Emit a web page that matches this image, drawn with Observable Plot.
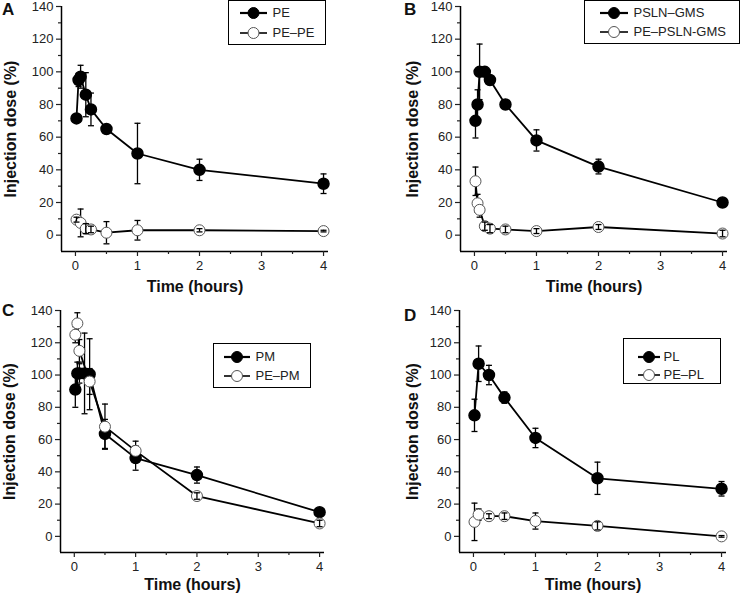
<!DOCTYPE html>
<html><head><meta charset="utf-8">
<script src="https://cdn.jsdelivr.net/npm/d3@7"></script>
<script src="https://cdn.jsdelivr.net/npm/@observablehq/plot@0.6"></script>
<style>
body{margin:0;background:#fff;}
#wrap{position:relative;width:742px;height:593px;font-family:"Liberation Sans",Arial,sans-serif;overflow:hidden;}
.panel{position:absolute;}
.panel svg{overflow:visible;}
[aria-label="y-axis label"] text,[aria-label="x-axis label"] text{font-weight:bold;font-size:16px;fill:#111;}
.letter{position:absolute;font-weight:bold;font-size:17px;line-height:1;color:#111;}
.legend{position:absolute;border:1.5px solid #000;background:#fff;box-sizing:border-box;font-size:13px;color:#222;}
.legend .row{position:absolute;display:flex;align-items:center;height:14px;white-space:nowrap;}
</style></head>
<body><div id="wrap"></div>
<script>
// ---- tick labels and texts ----
const xTicks = [0, 1, 2, 3, 4];
const xMinorTicks = [0.5, 1.5, 2.5, 3.5];
const yTicks = [0, 20, 40, 60, 80, 100, 120, 140];
const yMinorTicks = [10, 30, 50, 70, 90, 110, 130];
const yLabel = "Injection dose (%)";
const xLabel = "Time (hours)";
const panelLetters = ["A", "B", "C", "D"];
const seriesNames = [["PE", "PE–PE"], ["PSLN–GMS", "PE–PSLN-GMS"], ["PM", "PE–PM"], ["PL", "PE–PL"]];

// ---- Panel A ----
const timeA1 = [0.0167, 0.05, 0.083, 0.167, 0.25, 0.5, 1, 2, 4];
const doseA1 = [71.5, 95, 97, 86, 77, 65, 50, 40, 31.5];
const errA1  = [2, 4, 7, 13.5, 10, 1.5, 18.5, 6.5, 6];
const timeA2 = [0.0167, 0.083, 0.167, 0.25, 0.5, 1, 2, 4];
const doseA2 = [9.5, 7.5, 4, 3.5, 1.5, 3, 3, 2.5];
const errA2  = [1.5, 8.5, 3, 2, 6.8, 6, 1, 0.5];
// ---- Panel B ----
const timeB1 = [0.0167, 0.05, 0.083, 0.167, 0.25, 0.5, 1, 2, 4];
const doseB1 = [70, 80, 100, 100, 95, 80, 58, 42, 20];
const errB1  = [10.5, 9, 17, 2, 2, 1.5, 6.5, 4.5, 1.5];
const timeB2 = [0.0167, 0.05, 0.083, 0.167, 0.25, 0.5, 1, 2, 4];
const doseB2 = [33, 19.5, 15.5, 5.5, 4, 3.5, 2.5, 5, 1];
const errB2  = [8.7, 5.5, 4.5, 2.5, 2.5, 2, 1.5, 1.5, 2];
// ---- Panel C ----
const timeC1 = [0.0167, 0.05, 0.083, 0.167, 0.25, 0.5, 1, 2, 4];
const doseC1 = [91, 101, 101, 101, 100.5, 63.5, 48.5, 38, 15];
const errC1  = [11, 7, 6, 25, 22, 9, 7.5, 5, 1.5];
const timeC2 = [0.0167, 0.05, 0.083, 0.25, 0.5, 1, 2, 4];
const doseC2 = [125, 132, 115, 96, 68, 53, 25, 8];
const errC2  = [5, 6.6, 7, 8, 14, 6, 2, 2];
// ---- Panel D ----
const timeD1 = [0.0167, 0.083, 0.25, 0.5, 1, 2, 4];
const doseD1 = [75, 107, 100, 86, 61, 36, 29.5];
const errD1  = [10, 11, 6, 3.5, 6, 10, 4.5];
const timeD2 = [0.0167, 0.083, 0.25, 0.5, 1, 2, 4];
const doseD2 = [9, 13.5, 12.5, 12.5, 9.5, 6.5, 0];
const errD2  = [11.6, 3.5, 1.5, 2, 5, 2.5, 0.5];

const xDomain = [-0.225, 4.08];
const yDomain = [-10, 140];

const toRows = (t, y, e) => t.map((v, i) => ({t: v, y: y[i], e: e[i]}));
const capSymbol = {draw(ctx, size) { const r = Math.sqrt(size / Math.PI); ctx.moveTo(-r, 0); ctx.lineTo(r, 0); }};

const panels = [
  {s1: toRows(timeA1, doseA1, errA1), s2: toRows(timeA2, doseA2, errA2), left: 0, top: 0, height: 296,
   m: {l: 61, r: 43, t: 6, b: 45}, yOff: 57, xOff: 40, letter: {left: 2, top: 1},
   legend: {left: 228, top: 0, w: 98, h: 45, rows: [13, 33], gx: 12, gw: 27, tx: 45}},
  {s1: toRows(timeB1, doseB1, errB1), s2: toRows(timeB2, doseB2, errB2), left: 371, top: 0, height: 296,
   m: {l: 89, r: 15, t: 6, b: 45}, yOff: 54, xOff: 40, letter: {left: 404, top: 1},
   legend: {left: 584, top: 0, w: 156, h: 44, rows: [13, 32], gx: 16, gw: 28, tx: 50}},
  {s1: toRows(timeC1, doseC1, errC1), s2: toRows(timeC2, doseC2, errC2), left: 0, top: 296, height: 297,
   m: {l: 60, r: 47, t: 14, b: 41}, yOff: 57, xOff: 37, letter: {left: 2, top: 302},
   legend: {left: 213, top: 343, w: 98, h: 45, rows: [14, 33], gx: 11, gw: 26, tx: 43}},
  {s1: toRows(timeD1, doseD1, errD1), s2: toRows(timeD2, doseD2, errD2), left: 371, top: 296, height: 297,
   m: {l: 88, r: 16, t: 14, b: 41}, yOff: 53, xOff: 37, letter: {left: 404, top: 307},
   legend: {left: 623, top: 338, w: 98, h: 46, rows: [19, 37], gx: 15, gw: 22, tx: 41}}
];

const smallErr = 3.2;
function errorMarks(rows, filter) {
  const data = rows.filter(filter);
  return [
    Plot.ruleX(data, {x: "t", y1: d => d.y - d.e, y2: d => d.y + d.e, stroke: "#000", strokeWidth: 1.3}),
    Plot.dot(data, {x: "t", y: d => d.y + d.e, symbol: capSymbol, r: 3, stroke: "#000", strokeWidth: 1.3}),
    Plot.dot(data, {x: "t", y: d => d.y - d.e, symbol: capSymbol, r: 3, stroke: "#000", strokeWidth: 1.3})
  ];
}

const wrap = document.getElementById("wrap");
panels.forEach((p, idx) => {
  const chart = Plot.plot({
    width: 371, height: p.height,
    marginLeft: p.m.l, marginRight: p.m.r, marginTop: p.m.t, marginBottom: p.m.b,
    style: {fontFamily: '"Liberation Sans", Arial, sans-serif', fontSize: "13px", color: "#222", background: "transparent"},
    x: {domain: xDomain},
    y: {domain: yDomain},
    marks: [
      Plot.ruleX([xDomain[0]], {y1: yDomain[0], y2: yDomain[1], stroke: "#000", strokeWidth: 1.5}),
      Plot.ruleY([yDomain[0]], {x1: xDomain[0], x2: xDomain[1], stroke: "#000", strokeWidth: 1.5}),
      Plot.axisY({ticks: yTicks, tickSize: 5, tickPadding: 3, strokeWidth: 1.2, tickFormat: d3.format("d"), label: yLabel, labelAnchor: "center", labelArrow: "none", labelOffset: p.yOff}),
      Plot.axisY({ticks: yMinorTicks, tickSize: 3, strokeWidth: 1.2, tickFormat: () => "", label: null}),
      Plot.axisX({ticks: xTicks, tickSize: 5, tickPadding: 4, strokeWidth: 1.2, tickFormat: d3.format("d"), label: xLabel, labelAnchor: "center", labelArrow: "none", labelOffset: p.xOff}),
      Plot.axisX({ticks: xMinorTicks, tickSize: 3, strokeWidth: 1.2, tickFormat: () => "", label: null}),
      ...errorMarks(p.s1, () => true),
      ...errorMarks(p.s2, () => true),
      Plot.line(p.s1, {x: "t", y: "y", stroke: "#000", strokeWidth: 1.8}),
      Plot.line(p.s2, {x: "t", y: "y", stroke: "#000", strokeWidth: 1.8}),
      Plot.dot(p.s1, {x: "t", y: "y", r: 5.5, fill: "#000", stroke: "#000"}),
      Plot.dot(p.s2, {x: "t", y: "y", r: 5.5, fill: "#fff", stroke: "#555", strokeWidth: 1}),
      ...errorMarks(p.s2, d => d.e < smallErr)
    ]
  });
  const holder = document.createElement("div");
  holder.className = "panel";
  holder.style.left = p.left + "px";
  holder.style.top = p.top + "px";
  holder.appendChild(chart);
  wrap.appendChild(holder);

  const letter = document.createElement("div");
  letter.className = "letter";
  letter.style.left = p.letter.left + "px";
  letter.style.top = p.letter.top + "px";
  letter.textContent = panelLetters[idx];
  wrap.appendChild(letter);

  const L = p.legend;
  const box = document.createElement("div");
  box.className = "legend";
  Object.assign(box.style, {left: L.left + "px", top: L.top + "px", width: L.w + "px", height: L.h + "px"});
  seriesNames[idx].forEach((name, k) => {
    const row = document.createElement("div");
    row.className = "row";
    row.style.top = (L.rows[k] - 7 - 1.5) + "px";
    row.style.left = (L.gx - 1.5) + "px";
    const ns = "http://www.w3.org/2000/svg";
    const svg = document.createElementNS(ns, "svg");
    svg.setAttribute("width", L.gw); svg.setAttribute("height", 14);
    const ln = document.createElementNS(ns, "line");
    ln.setAttribute("x1", 0); ln.setAttribute("x2", L.gw); ln.setAttribute("y1", 7); ln.setAttribute("y2", 7);
    ln.setAttribute("stroke", "#000"); ln.setAttribute("stroke-width", k === 0 ? 2.2 : 1.6);
    const c = document.createElementNS(ns, "circle");
    c.setAttribute("cx", L.gw / 2); c.setAttribute("cy", 7); c.setAttribute("r", 5.5);
    c.setAttribute("fill", k === 0 ? "#000" : "#fff"); c.setAttribute("stroke", k === 0 ? "#000" : "#555");
    svg.appendChild(ln); svg.appendChild(c);
    const txt = document.createElement("span");
    txt.textContent = name;
    txt.style.marginLeft = (L.tx - L.gx - L.gw) + "px";
    row.appendChild(svg); row.appendChild(txt);
    box.appendChild(row);
  });
  wrap.appendChild(box);
});
</script></body></html>
